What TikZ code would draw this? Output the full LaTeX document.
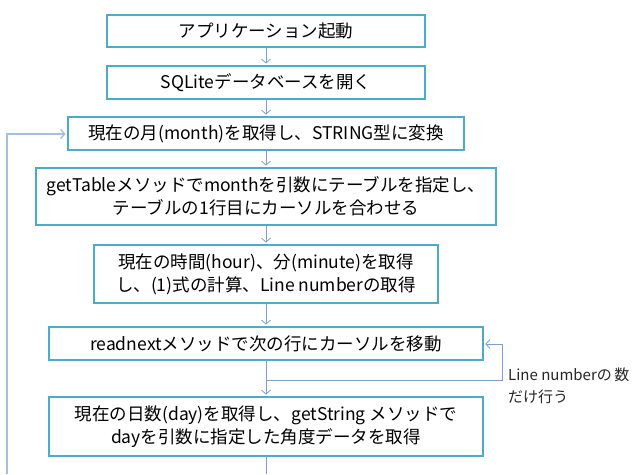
\documentclass[tikz,border=0pt]{standalone}
\usepackage{fontspec}
\setmainfont{Noto Sans CJK JP}
\usetikzlibrary{arrows.meta}
\definecolor{boxc}{HTML}{4BACC6}
\definecolor{linec}{HTML}{7F9FD4}
\definecolor{loopc}{HTML}{A7BFDE}
\definecolor{labc}{HTML}{262626}
\begin{document}
\begin{tikzpicture}[x=1pt,y=-1pt,
  box/.style={draw=boxc, line width=2.4pt, fill=white, rectangle, inner sep=0pt,
    align=center, font=\fontsize{17.5}{23}\selectfont},
  conn/.style={draw=linec, line width=0.8pt, shorten >=1.2pt,
    -{Straight Barb[length=4pt,width=9pt]}},
  plain/.style={draw=linec, line width=0.8pt},
  loopconn/.style={draw=loopc, line width=1.4pt, shorten >=1.2pt,
    -{Straight Barb[length=4pt,width=9pt]}},
  lab/.style={anchor=base west, inner sep=0pt, text=labc, font=\fontsize{15}{20}\selectfont}]
\useasboundingbox (0,0) rectangle (634,474);
\fill[white] (0,0) rectangle (634,474);

\node[box, minimum width=318pt, minimum height=32pt] (b1) at (266,31) {アプリケーション起動};
\node[box, minimum width=318pt, minimum height=33pt] (b2) at (266,82.5) {SQLiteデータベースを開く};
\node[box, minimum width=396pt, minimum height=33pt] (b3) at (266,133.5) {現在の月(month)を取得し、STRING型に変換};
\node[box, minimum width=460pt, minimum height=57pt] (b4) at (266,196.5) {getTableメソッドでmonthを引数にテーブルを指定し、\\テーブルの1行目にカーソルを合わせる};
\node[box, minimum width=344pt, minimum height=58pt] (b5) at (266,274) {現在の時間(hour)、分(minute)を取得\\し、(1)式の計算、Line numberの取得};
\node[box, minimum width=434pt, minimum height=33pt] (b6) at (266,343.5) {readnextメソッドで次の行にカーソルを移動};
\node[box, minimum width=434pt, minimum height=59pt] (b7) at (266,426.5) {現在の日数(day)を取得し、getString メソッドで\\dayを引数に指定した角度データを取得};

\node[lab] (l1) at (508,380.5) {Line numberの\,数};
\node[lab] (l2) at (508,402.5) {だけ行う};

\draw[conn] (b1) -- (b2);
\draw[conn] (b2) -- (b3);
\draw[conn] (b3) -- (b4);
\draw[conn] (b4) -- (b5);
\draw[conn] (b5) -- (b6);
\draw[conn] (b6) -- (b7);

\coordinate (bb) at (266,474);
\draw[plain] (b7.south) -- (bb);

\coordinate (j) at (266,380);
\coordinate (r1) at (502,380);
\coordinate (r2) at (502,344);
\draw[conn] (j) -- (r1) -- (r2) -- (b6.east |- r2);

\coordinate (lb) at (7,474);
\coordinate (lt) at (7,134);
\draw[loopconn] (lb) -- (lt) -- (b3.west |- lt);
\end{tikzpicture}
\end{document}
